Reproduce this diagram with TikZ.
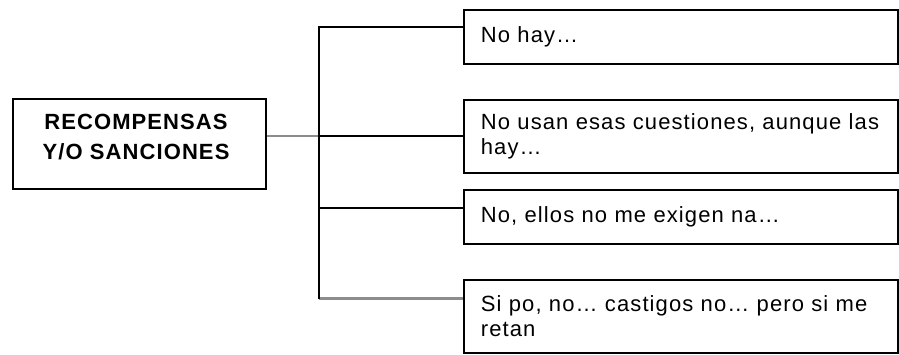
\documentclass[tikz,border=0pt]{standalone}
\usepackage{fontspec}
\setmainfont{Liberation Sans}
\newfontfamily\boxfont[LetterSpace=5]{Liberation Sans}
\definecolor{lngray}{RGB}{140,140,140}
\begin{document}
\begin{tikzpicture}[x=1pt,y=-1pt,
  box/.style={draw=black,line width=1.8pt,fill=white,rectangle,anchor=north west,
    text width=400pt,inner xsep=17pt,inner ysep=0pt,align=left,
    font=\boxfont\fontsize{22}{25}\selectfont},
  mainbox/.style={draw=black,line width=1.8pt,fill=white,rectangle,
    minimum width=253pt,minimum height=90pt,inner sep=0pt},
  maintext/.style={align=center,inner sep=0pt,
    font=\boxfont\bfseries\fontsize{22}{30}\selectfont},
  conn/.style={line width=1.8pt,draw=black},
  gconn/.style={line width=2.8pt,draw=lngray}]
\useasboundingbox (0,0) rectangle (899,354);
\fill[white] (0,0) rectangle (899,354);

\coordinate (jt) at (319,27);
\coordinate (jm) at (319,136);
\coordinate (j3) at (319,208);
\coordinate (jb) at (319,298.5);

\node[mainbox] (main) at (139.5,144) {};
\node[maintext] (title) at (136,137.5) {RECOMPENSAS\\Y/O SANCIONES};

\node[box,minimum height=54pt] (b1) at (463,9) {No hay…};
\node[box,minimum height=73pt] (b2) at (463,99) {No usan esas cuestiones, aunque las\\hay…};
\node[box,minimum height=54pt] (b3) at (463,189) {No, ellos no me exigen na…};
\node[box,minimum height=73pt] (b4) at (463,279) {Si po, no… castigos no… pero si me\\retan};

\draw[gconn] (main.east |- jm) -- (jm);
\draw[conn] (jm) -- (b2.west |- jm);
\draw[conn] (j3) -- (b3.west |- j3);
\draw[gconn] (jb) -- (b4.west |- jb);
\draw[conn] (b1.west |- jt) -- (jt) -- (jb);
\end{tikzpicture}
\end{document}
